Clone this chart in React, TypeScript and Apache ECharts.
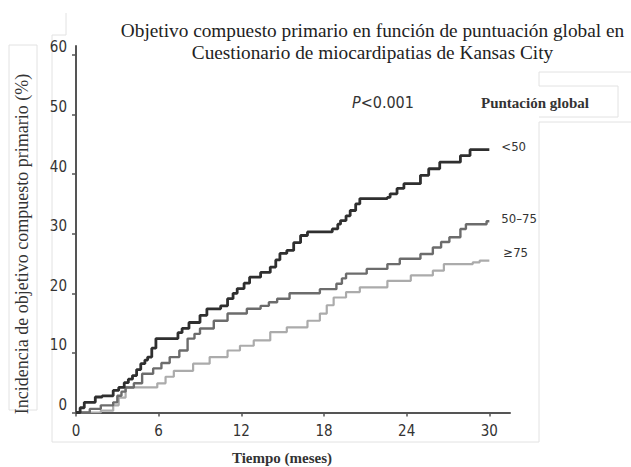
import React, { useEffect, useRef } from "react";
import * as echarts from "echarts";

const xTicks = [0, 6, 12, 18, 24, 30];
const yTicks = [0, 10, 20, 30, 40, 50, 60];

const seriesNames = ["<50", "50–75", "≥75"];

// [months, incidence %] step points
const under50: [number, number][] = [
  [0, 0], [0.3, 0.8], [0.6, 1.7], [1.4, 2.6], [1.9, 2.8], [2.7, 3.7], [3.1, 4.2], [3.5, 5.0],
  [3.8, 5.6], [4.1, 6.2], [4.4, 7.2], [4.7, 8.2], [5.0, 8.8], [5.2, 9.3], [5.5, 10.8], [5.8, 12.4],
  [7.4, 13.4], [7.7, 14.1], [8.2, 15.1], [9.0, 16.3], [9.5, 17.4], [10.5, 17.9], [11.0, 19.1],
  [11.4, 20.0], [11.7, 20.8], [12.2, 21.7], [12.6, 22.7], [13.4, 23.5], [14.1, 24.4], [14.5, 25.6],
  [14.8, 26.7], [15.3, 27.2], [15.8, 28.5], [16.3, 29.7], [16.8, 30.3], [18.6, 30.8], [19.0, 31.6],
  [19.2, 32.2], [19.6, 33.0], [19.9, 33.9], [20.3, 35.0], [20.6, 35.9], [22.6, 36.1], [22.8, 36.7],
  [23.3, 37.6], [23.8, 38.4], [25.0, 39.8], [25.6, 40.9], [26.4, 42.0], [27.9, 43.1], [28.6, 44.1],
  [30.0, 44.1],
];

const from50to75: [number, number][] = [
  [0, 0], [1.0, 0.6], [1.8, 1.2], [2.7, 1.7], [3.0, 2.8], [3.3, 3.5], [3.6, 4.2], [4.2, 4.9],
  [4.8, 6.5], [5.6, 7.4], [6.2, 8.3], [6.8, 9.3], [7.5, 10.4], [8.1, 12.4], [8.6, 13.2], [9.0, 14.1],
  [10.0, 15.4], [11.0, 16.6], [12.4, 17.4], [13.4, 17.9], [14.0, 18.5], [14.6, 19.1], [15.5, 20.0],
  [17.7, 20.7], [18.9, 21.6], [19.3, 22.5], [19.6, 23.3], [21.1, 24.1], [22.6, 24.9], [23.5, 25.8],
  [25.0, 26.6], [25.9, 27.7], [26.5, 28.6], [27.1, 29.4], [27.9, 30.8], [28.3, 31.6], [29.8, 32.1],
  [30.0, 32.1],
];

const over75: [number, number][] = [
  [0, 0], [1.8, 0.3], [2.7, 1.2], [3.1, 2.5], [3.6, 4.2], [5.9, 4.9], [6.5, 6.0], [7.1, 7.0],
  [8.5, 8.2], [9.7, 9.3], [11.0, 10.4], [11.9, 11.2], [12.9, 12.1], [14.1, 13.5], [15.3, 14.3],
  [16.8, 15.4], [17.7, 16.6], [18.2, 18.0], [18.7, 19.3], [19.6, 20.2], [20.6, 21.0], [22.6, 22.1],
  [24.3, 23.0], [25.9, 23.8], [26.7, 24.9], [28.8, 25.2], [29.3, 25.5], [30.0, 25.5],
];

const titleLines = [
  "Objetivo compuesto primario en función de puntuación global en",
  "Cuestionario de miocardipatias de Kansas City",
];
const yName = "Incidencia de objetivo compuesto primario (%)";
const xName = "Tiempo (meses)";
const pLetter = "P";
const pRest = "<0.001";
const legendTitle = "Puntación global";

const SERIF = "'Liberation Serif', 'Times New Roman', serif";
const NARROW = "'Liberation Sans Narrow', 'DejaVu Sans Condensed', 'Arial Narrow', 'Liberation Sans', sans-serif";

export default function App() {
  const ref = useRef<HTMLDivElement>(null);
  useEffect(() => {
    if (!ref.current) return;
    const chart = echarts.init(ref.current, undefined, { renderer: "svg" });
    const faint = { stroke: "#e2e2e2", lineWidth: 1 };
    const mkLine = (x1: number, y1: number, x2: number, y2: number) => ({
      type: "line",
      silent: true,
      shape: { x1, y1, x2, y2 },
      style: faint,
      z: 0,
    });
    const datasets = [under50, from50to75, over75];
    const colors = ["#2f2f2f", "#6c6c6c", "#ababab"];
    const widths = [2.8, 2.4, 2.2];
    const labelOffsets = [[12, -3], [12, -3], [14, -8]];
    chart.setOption({
      animation: false,
      backgroundColor: "#ffffff",
      grid: { left: 76, top: 46, width: 434, height: 366.5 },
      xAxis: {
        type: "value",
        min: 0,
        max: 31.5,
        axisLine: { show: true, lineStyle: { color: "#555", width: 2 } },
        axisTick: { show: true, length: 4, customValues: xTicks, lineStyle: { color: "#555", width: 1.5 } },
        axisLabel: {
          customValues: xTicks,
          margin: 11,
          color: "#333",
          fontFamily: NARROW,
          fontSize: 15,
        },
        splitLine: { show: false },
      },
      yAxis: {
        type: "value",
        min: 0,
        max: 61.5,
        axisLine: { show: true, lineStyle: { color: "#555", width: 2 } },
        axisTick: { show: true, length: 4, customValues: yTicks, lineStyle: { color: "#555", width: 1.5 } },
        axisLabel: {
          customValues: yTicks,
          margin: 9,
          color: "#333",
          fontFamily: NARROW,
          fontSize: 15,
          verticalAlign: "bottom",
        },
        splitLine: { show: false },
      },
      series: datasets.map((d, i) => ({
        type: "line",
        name: seriesNames[i],
        data: d,
        step: "end",
        showSymbol: false,
        symbol: "none",
        lineStyle: { color: colors[i], width: widths[i] },
        itemStyle: { color: colors[i] },
        z: 10 - i,
        endLabel: {
          show: true,
          formatter: seriesNames[i],
          distance: 0,
          offset: labelOffsets[i],
          color: "#333",
          fontFamily: NARROW,
          fontSize: 13,
        },
      })),
      graphic: [
        mkLine(9, 45, 37, 45),
        mkLine(9, 45, 9, 410),
        mkLine(37, 45, 37, 410),
        mkLine(9, 410, 37, 410),
        mkLine(66, 13, 66, 35),
        mkLine(52, 35, 66, 35),
        mkLine(52, 35, 52, 442),
        mkLine(52, 442, 539, 442),
        mkLine(539, 122, 539, 442),
        mkLine(539, 122, 631, 122),
        mkLine(539, 72, 631, 72),
        mkLine(539, 72, 539, 86),
        mkLine(539, 86, 618, 86),
        mkLine(618, 86, 618, 117),
        mkLine(539, 117, 618, 117),
        {
          type: "text",
          x: 372.5,
          y: 30,
          style: {
            text: titleLines[0],
            fontFamily: SERIF,
            fontSize: 19.3,
            fill: "#222",
            textAlign: "center",
            textVerticalAlign: "middle",
          },
        },
        {
          type: "text",
          x: 372.5,
          y: 52,
          style: {
            text: titleLines[1],
            fontFamily: SERIF,
            fontSize: 19.3,
            fill: "#222",
            textAlign: "center",
            textVerticalAlign: "middle",
          },
        },
        {
          type: "text",
          x: 22,
          y: 244,
          rotation: Math.PI / 2,
          style: {
            text: yName,
            fontFamily: SERIF,
            fontSize: 18,
            fill: "#333",
            textAlign: "center",
            textVerticalAlign: "middle",
          },
        },
        {
          type: "text",
          x: 282,
          y: 458,
          style: {
            text: xName,
            fontFamily: SERIF,
            fontSize: 15,
            fontWeight: "bold",
            fill: "#333",
            textAlign: "center",
            textVerticalAlign: "middle",
          },
        },
        {
          type: "text",
          x: 352,
          y: 102,
          style: {
            text: "{i|" + pLetter + "}{r|" + pRest + "}",
            rich: {
              i: { fontFamily: NARROW, fontSize: 16, fontStyle: "italic", fill: "#333" },
              r: { fontFamily: NARROW, fontSize: 16, fill: "#333" },
            },
            textAlign: "left",
            textVerticalAlign: "middle",
          },
        },
        {
          type: "text",
          x: 481,
          y: 103,
          style: {
            text: legendTitle,
            fontFamily: SERIF,
            fontSize: 15,
            fontWeight: "bold",
            fill: "#333",
            textAlign: "left",
            textVerticalAlign: "middle",
          },
        },
      ],
    });
    return () => chart.dispose();
  }, []);
  return (
    <div
      ref={ref}
      style={{ position: "fixed", left: 0, top: 0, width: 631, height: 467, background: "#fff" }}
    />
  );
}
